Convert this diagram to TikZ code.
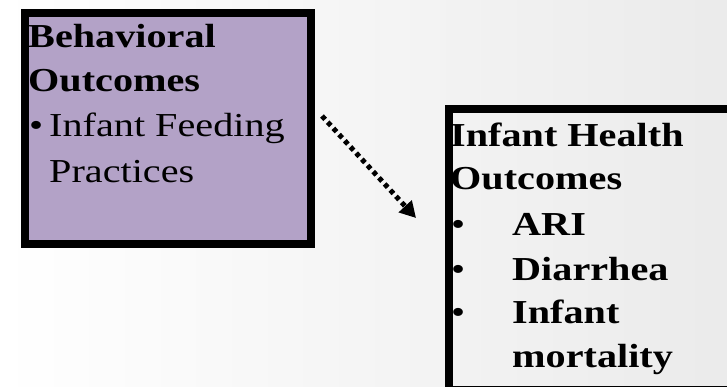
\documentclass[tikz,border=0pt]{standalone}
\usepackage{fontspec}
\setmainfont[FakeStretch=1.2]{Liberation Serif}
\usetikzlibrary{arrows.meta}
\definecolor{lav}{HTML}{B3A2C7}
\tikzset{
  boxframe/.style={draw=black, line width=8pt},
  txt/.style={anchor=base west, inner sep=0pt, font=\fontsize{33.5}{33.5}\selectfont},
  btxt/.style={txt, font=\fontsize{33.5}{33.5}\selectfont\bfseries},
  dotarrow/.style={line width=5pt, dash pattern=on 4.6pt off 3.8pt, -{Triangle[length=16pt,width=17pt]}}
}
\begin{document}
\begin{tikzpicture}[x=1pt,y=-1pt]
\useasboundingbox (0,0) rectangle (727,387);
\shade[left color=white, right color=black!8] (0,0) rectangle (727,387);
\begin{scope}
\clip (0,0) rectangle (727,387);
\node[boxframe, fill=lav, minimum width=286pt, minimum height=231pt, anchor=north west, inner sep=0pt] (beh) at (20.5,9) {};
\node[boxframe, minimum width=282pt, minimum height=280pt, anchor=north west, inner sep=0pt] (ih) at (444.5,105.5) {};
\end{scope}
% left box text
\node[btxt] (b1) at (28,48) {Behavioral};
\node[btxt] (b2) at (28,92) {Outcomes};
\node[txt] (b3) at (29,137) {\textbullet};
\node[txt] (b4) at (49,137) {Infant Feeding};
\node[txt] (b5) at (49,183) {Practices};
% right box text
\node[btxt] (r1) at (450,147) {Infant Health};
\node[btxt] (r2) at (450,190) {Outcomes};
\node[txt] (rb1) at (451,235) {\textbullet};
\node[btxt] (r3) at (512,235) {ARI};
\node[txt] (rb2) at (451,280) {\textbullet};
\node[btxt] (r4) at (512,280) {Diarrhea};
\node[txt] (rb3) at (451,323) {\textbullet};
\node[btxt] (r5) at (512,323) {Infant};
\node[btxt] (r6) at (512,367) {mortality};
% arrow
\coordinate (a0) at (322,116);
\coordinate (a1) at (416,218);
\draw[dotarrow] (a0) -- (a1);
\end{tikzpicture}
\end{document}
